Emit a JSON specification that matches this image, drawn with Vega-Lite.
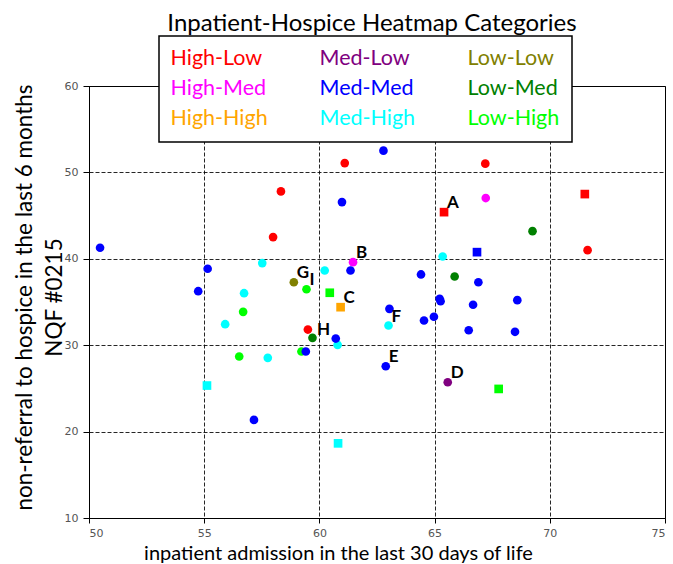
{
  "$schema": "https://vega.github.io/schema/vega-lite/v6.json",
  "width": 576,
  "height": 432,
  "autosize": {"type": "none"},
  "padding": {"left": 89, "top": 86, "right": 8, "bottom": 46},
  "background": "white",
  "title": {
    "text": "Inpatient-Hospice Heatmap Categories",
    "font": "Lato",
    "fontSize": 24,
    "fontWeight": "normal",
    "color": "black",
    "anchor": "middle",
    "offset": -1,
    "dx": -5
  },
  "config": {
    "view": {"stroke": "black", "strokeWidth": 1},
    "axis": {
      "grid": true,
      "gridColor": "black",
      "gridDash": [4, 2],
      "gridOpacity": 0.85,
      "gridWidth": 1,
      "domainColor": "black",
      "tickColor": "black",
      "tickSize": 5,
      "labelFont": "DejaVu Sans",
      "labelFontSize": 11,
      "labelColor": "#555555",
      "titleFont": "Lato",
      "titleFontSize": 20,
      "titleFontWeight": "normal",
      "titleColor": "black"
    }
  },
  "data": {
    "values": [
      {"x": 50.48, "y": 41.28, "cat": "Med-Med", "sq": "no", "label": ""},
      {"x": 58.33, "y": 47.80, "cat": "High-Low", "sq": "no", "label": ""},
      {"x": 57.99, "y": 42.51, "cat": "High-Low", "sq": "no", "label": ""},
      {"x": 62.78, "y": 52.52, "cat": "Med-Med", "sq": "no", "label": ""},
      {"x": 61.10, "y": 51.08, "cat": "High-Low", "sq": "no", "label": ""},
      {"x": 60.98, "y": 46.56, "cat": "Med-Med", "sq": "no", "label": ""},
      {"x": 65.41, "y": 45.40, "cat": "High-Low", "sq": "yes", "label": "A"},
      {"x": 67.20, "y": 51.01, "cat": "High-Low", "sq": "no", "label": ""},
      {"x": 67.22, "y": 47.03, "cat": "High-Med", "sq": "no", "label": ""},
      {"x": 71.52, "y": 47.49, "cat": "High-Low", "sq": "yes", "label": ""},
      {"x": 69.25, "y": 43.20, "cat": "Low-Med", "sq": "no", "label": ""},
      {"x": 71.64, "y": 41.00, "cat": "High-Low", "sq": "no", "label": ""},
      {"x": 66.84, "y": 40.77, "cat": "Med-Med", "sq": "yes", "label": ""},
      {"x": 65.35, "y": 40.27, "cat": "Med-High", "sq": "no", "label": ""},
      {"x": 55.15, "y": 38.85, "cat": "Med-Med", "sq": "no", "label": ""},
      {"x": 54.74, "y": 36.25, "cat": "Med-Med", "sq": "no", "label": ""},
      {"x": 57.52, "y": 39.50, "cat": "Med-High", "sq": "no", "label": ""},
      {"x": 56.73, "y": 36.02, "cat": "Med-High", "sq": "no", "label": ""},
      {"x": 56.69, "y": 33.86, "cat": "Low-High", "sq": "no", "label": ""},
      {"x": 55.91, "y": 32.43, "cat": "Med-High", "sq": "no", "label": ""},
      {"x": 56.52, "y": 28.69, "cat": "Low-High", "sq": "no", "label": ""},
      {"x": 57.76, "y": 28.54, "cat": "Med-High", "sq": "no", "label": ""},
      {"x": 55.12, "y": 25.33, "cat": "Med-High", "sq": "yes", "label": ""},
      {"x": 57.16, "y": 21.35, "cat": "Med-Med", "sq": "no", "label": ""},
      {"x": 58.89, "y": 37.29, "cat": "Low-Low", "sq": "no", "label": "G"},
      {"x": 59.44, "y": 36.48, "cat": "Low-High", "sq": "no", "label": "I"},
      {"x": 60.45, "y": 36.07, "cat": "Low-High", "sq": "yes", "label": ""},
      {"x": 60.92, "y": 34.40, "cat": "High-High", "sq": "yes", "label": "C"},
      {"x": 61.46, "y": 39.61, "cat": "High-Med", "sq": "no", "label": "B"},
      {"x": 60.23, "y": 38.65, "cat": "Med-High", "sq": "no", "label": ""},
      {"x": 61.35, "y": 38.65, "cat": "Med-Med", "sq": "no", "label": ""},
      {"x": 64.41, "y": 38.19, "cat": "Med-Med", "sq": "no", "label": ""},
      {"x": 65.87, "y": 37.95, "cat": "Low-Med", "sq": "no", "label": ""},
      {"x": 66.90, "y": 37.29, "cat": "Med-Med", "sq": "no", "label": ""},
      {"x": 63.04, "y": 34.21, "cat": "Med-Med", "sq": "no", "label": ""},
      {"x": 63.00, "y": 32.28, "cat": "Med-High", "sq": "no", "label": "F"},
      {"x": 65.22, "y": 35.37, "cat": "Med-Med", "sq": "no", "label": ""},
      {"x": 65.26, "y": 35.09, "cat": "Med-Med", "sq": "no", "label": ""},
      {"x": 66.67, "y": 34.68, "cat": "Med-Med", "sq": "no", "label": ""},
      {"x": 64.54, "y": 32.86, "cat": "Med-Med", "sq": "no", "label": ""},
      {"x": 64.97, "y": 33.29, "cat": "Med-Med", "sq": "no", "label": ""},
      {"x": 66.48, "y": 31.73, "cat": "Med-Med", "sq": "no", "label": ""},
      {"x": 68.59, "y": 35.21, "cat": "Med-Med", "sq": "no", "label": ""},
      {"x": 68.49, "y": 31.55, "cat": "Med-Med", "sq": "no", "label": ""},
      {"x": 59.50, "y": 31.81, "cat": "High-Low", "sq": "no", "label": "H"},
      {"x": 59.70, "y": 30.85, "cat": "Low-Med", "sq": "no", "label": ""},
      {"x": 60.79, "y": 30.04, "cat": "Med-High", "sq": "no", "label": ""},
      {"x": 60.71, "y": 30.77, "cat": "Med-Med", "sq": "no", "label": ""},
      {"x": 59.22, "y": 29.27, "cat": "Low-High", "sq": "no", "label": ""},
      {"x": 59.41, "y": 29.27, "cat": "Med-Med", "sq": "no", "label": ""},
      {"x": 62.88, "y": 27.56, "cat": "Med-Med", "sq": "no", "label": "E"},
      {"x": 65.57, "y": 25.71, "cat": "Med-Low", "sq": "no", "label": "D"},
      {"x": 60.81, "y": 18.64, "cat": "Med-High", "sq": "yes", "label": ""},
      {"x": 67.78, "y": 24.94, "cat": "Low-High", "sq": "yes", "label": ""}
    ]
  },
  "encoding": {
    "x": {
      "field": "x",
      "type": "quantitative",
      "scale": {"domain": [50, 75], "nice": false, "zero": false},
      "axis": {
        "values": [50, 55, 60, 65, 70, 75],
        "title": "inpatient admission in the last 30 days of life",
        "labelPadding": 4,
        "titleX": 249,
        "titleY": 25
      }
    },
    "y": {
      "field": "y",
      "type": "quantitative",
      "scale": {"domain": [10, 60], "nice": false, "zero": false},
      "axis": {
        "values": [10, 20, 30, 40, 50, 60],
        "tickSize": 6,
        "labelPadding": 5,
        "title": ["non-referral to hospice in the last 6 months", "NQF #0215"],
        "titleFontSize": 22.5,
        "titleLineHeight": 30,
        "titleX": -53,
        "titleY": 211
      }
    }
  },
  "layer": [
    {
      "mark": {"type": "point", "filled": true, "opacity": 1, "size": 75},
      "encoding": {
        "color": {
          "field": "cat",
          "type": "nominal",
          "scale": {
            "domain": ["High-Low", "Med-Low", "Low-Low", "High-Med", "Med-Med", "Low-Med", "High-High", "Med-High", "Low-High"],
            "range": ["#ff0000", "#800080", "#808000", "#ff00ff", "#0000ff", "#008000", "#ffa500", "#00ffff", "#00ff00"]
          },
          "legend": {
            "orient": "none",
            "legendX": 70,
            "legendY": -50,
            "title": null,
            "columns": 3,
            "direction": "horizontal",
            "fillColor": "white",
            "strokeColor": "black",
            "padding": 12,
            "columnPadding": 51,
            "rowPadding": 7,
            "symbolSize": 0,
            "symbolOpacity": 0,
            "symbolStrokeWidth": 0,
            "labelOffset": -22,
            "labelFont": "Lato",
            "labelFontSize": 21.5,
            "labelLimit": 300,
            "encode": {
              "legend": {"update": {"strokeWidth": {"value": 1.5}}},
              "labels": {"update": {"fill": {"scale": "color", "field": "value"}}}
            }
          }
        },
        "shape": {
          "field": "sq",
          "type": "nominal",
          "scale": {"domain": ["no", "yes"], "range": ["circle", "square"]},
          "legend": null
        }
      }
    },
    {
      "transform": [{"filter": "datum.label != '' && datum.label != 'H'"}],
      "mark": {"type": "text", "font": "Lato", "fontSize": 17, "fontWeight": "bold", "align": "left", "baseline": "middle", "dx": 3, "dy": -9, "color": "black"},
      "encoding": {"text": {"field": "label"}}
    },
    {
      "transform": [{"filter": "datum.label == 'H'"}],
      "mark": {"type": "text", "font": "Lato", "fontSize": 17, "fontWeight": "bold", "align": "left", "baseline": "middle", "dx": 9, "dy": 0, "color": "black"},
      "encoding": {"text": {"field": "label"}}
    }
  ]
}
